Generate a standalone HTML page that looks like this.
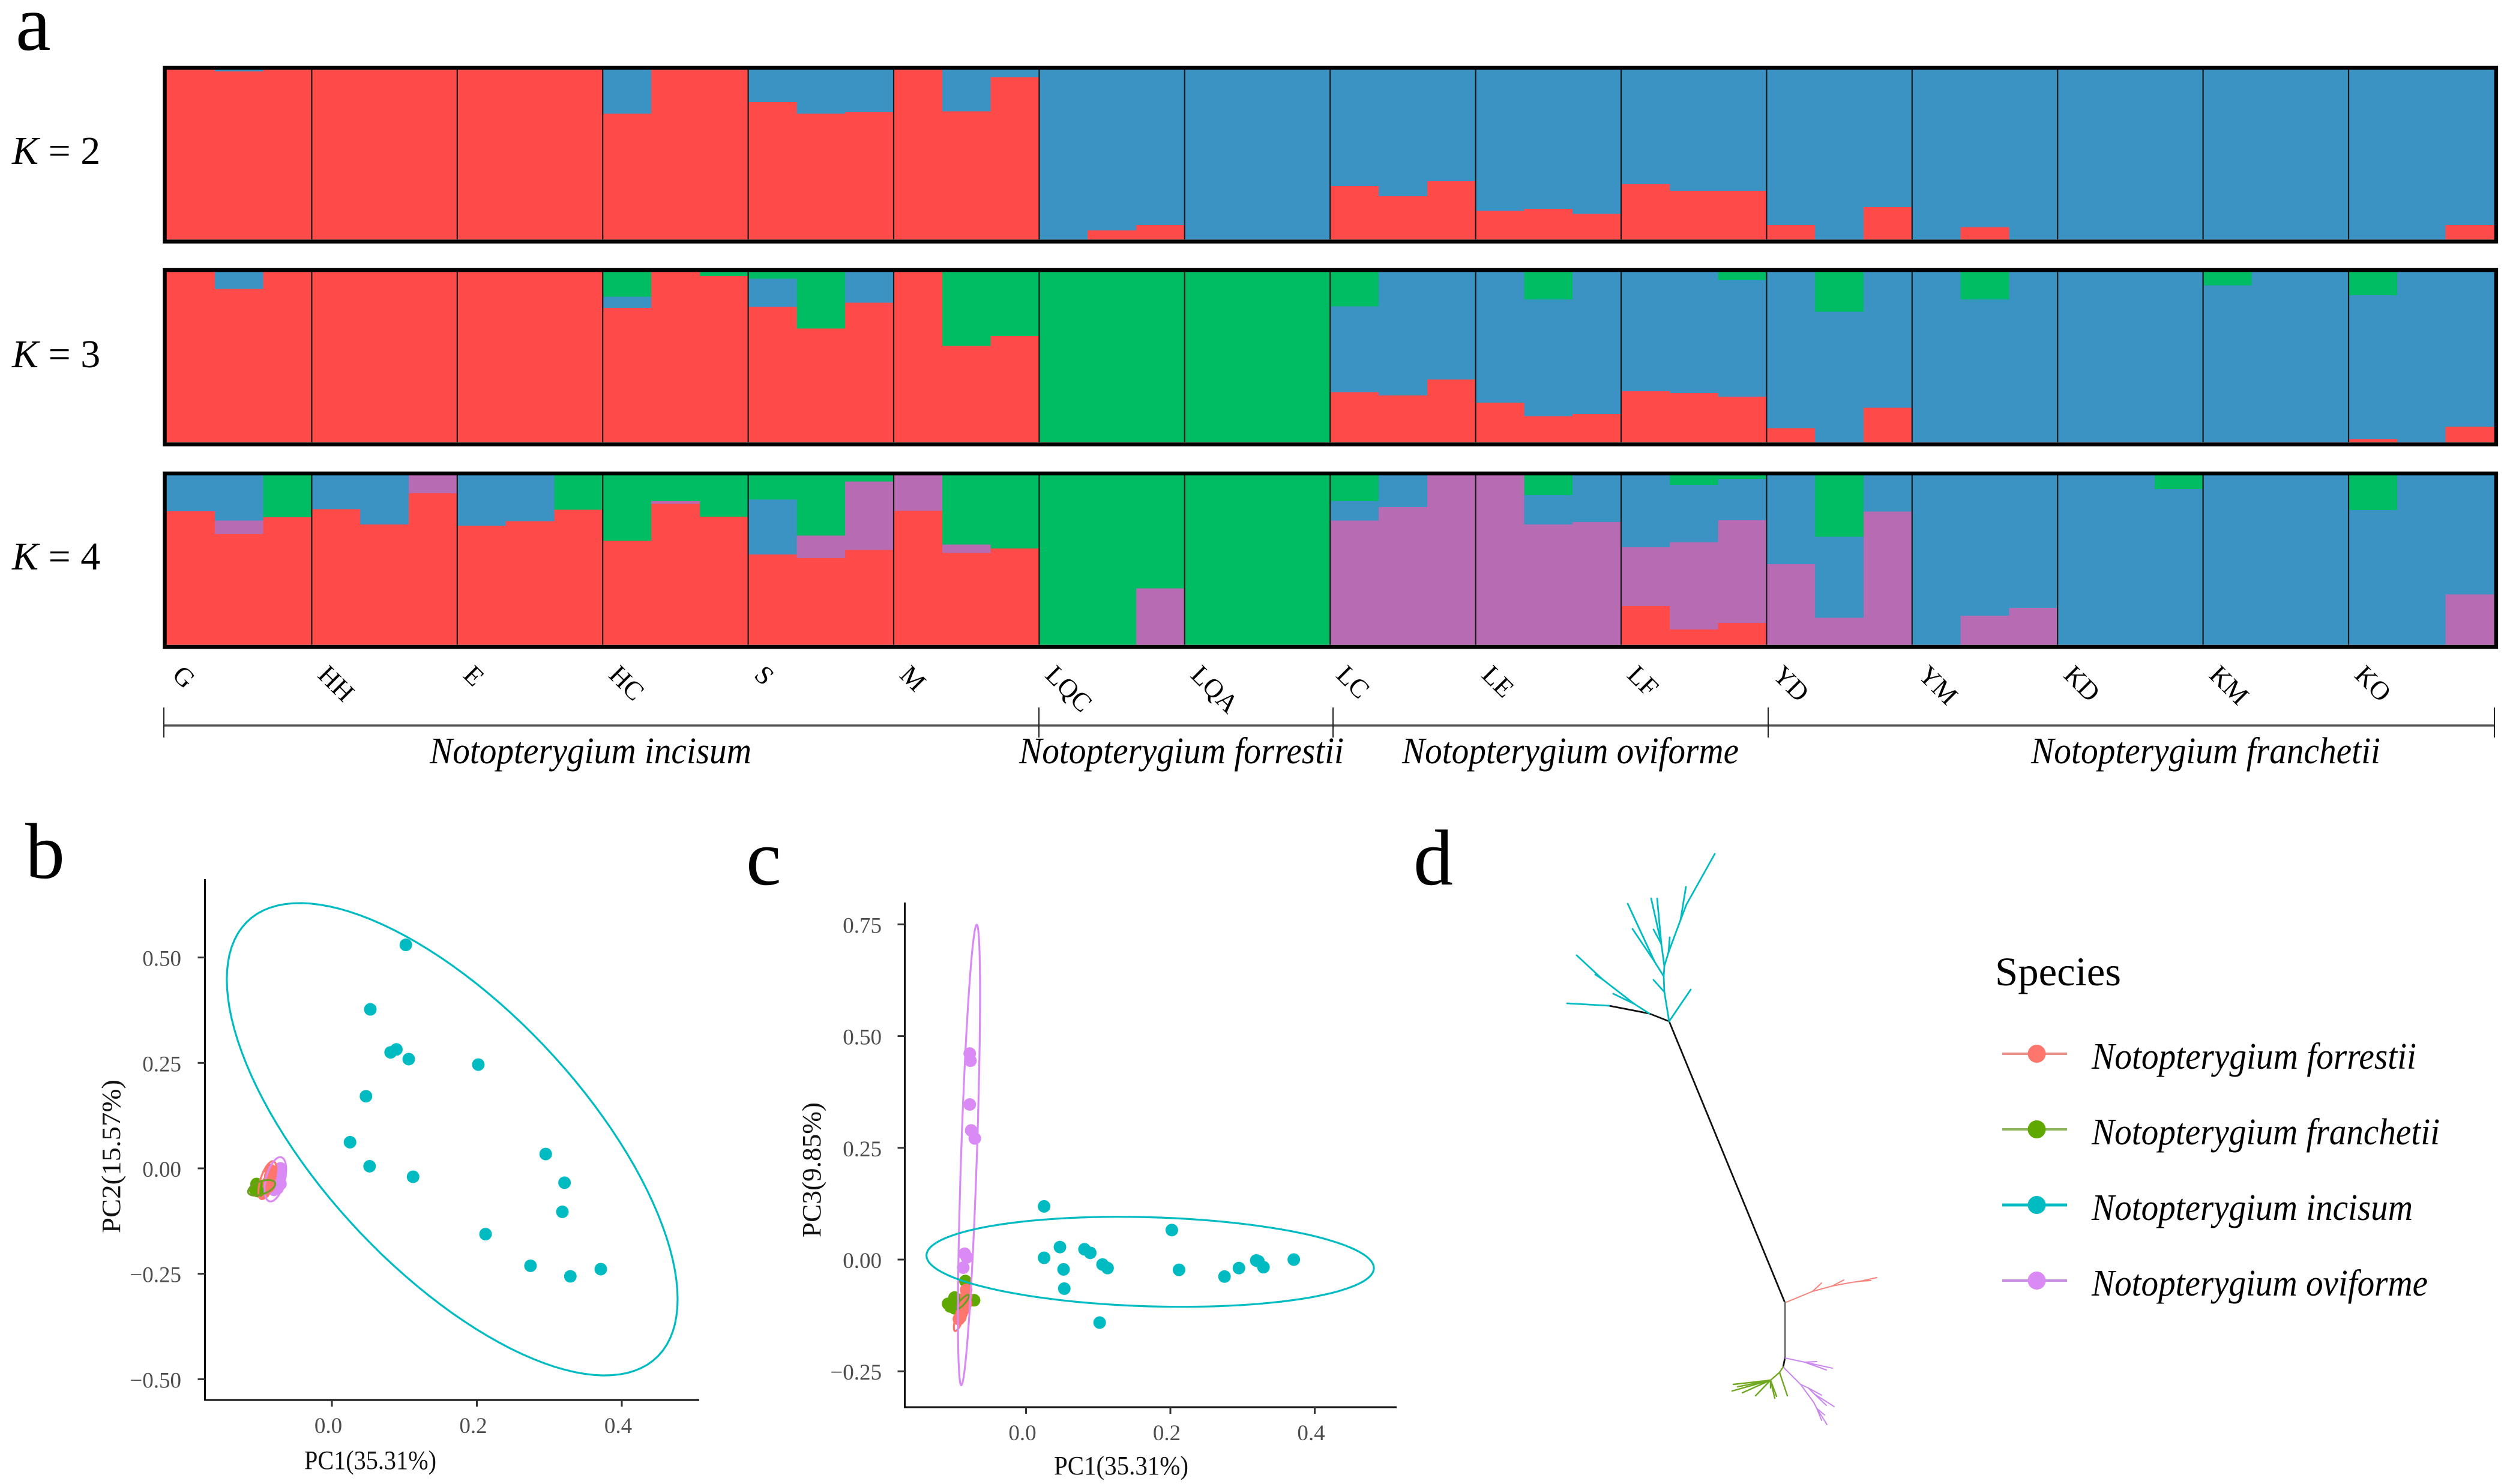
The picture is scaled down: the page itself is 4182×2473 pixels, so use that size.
<!DOCTYPE html>
<html lang="en">
<head>
<meta charset="utf-8">
<title>Notopterygium population structure</title>
<style>
html,body{margin:0;padding:0;background:#fff;}
svg{display:block;}
text{font-family:"Liberation Serif",serif;}
.tick{fill:#4d4d4d;font-size:37px;}
.axt{fill:#111;font-size:44px;}
.pan{fill:#000;font-size:132px;}
.klab{fill:#000;font-size:66px;}
.sp{fill:#000;font-size:62px;font-style:italic;}
.pop{fill:#000;font-size:44px;}
</style>
</head>
<body>
<svg id="fig" xmlns="http://www.w3.org/2000/svg" width="4182" height="2473" viewBox="0 0 4182 2473">
<rect x="0" y="0" width="4182" height="2473" fill="#fff"/>
<text class="pan" x="26" y="83">a</text>
<text class="pan" x="42" y="1463">b</text>
<text class="pan" x="1243" y="1474">c</text>
<text class="pan" x="2355" y="1474">d</text>

<text class="klab" x="20" y="273"><tspan font-style="italic">K</tspan> = 2</text>
<text class="klab" x="20" y="612"><tspan font-style="italic">K</tspan> = 3</text>
<text class="klab" x="20" y="949"><tspan font-style="italic">K</tspan> = 4</text>

<g id="structure"></g>
<g id="poplabels"></g>

<g fill="none">
<line x1="273" y1="1209" x2="4157" y2="1209" stroke="#555" stroke-width="3.5"/>
<line x1="273" y1="1179" x2="273" y2="1229" stroke="#222" stroke-width="2"/>
<line x1="1731" y1="1179" x2="1731" y2="1229" stroke="#222" stroke-width="2"/>
<line x1="2221" y1="1179" x2="2221" y2="1229" stroke="#222" stroke-width="2"/>
<line x1="2946" y1="1179" x2="2946" y2="1229" stroke="#222" stroke-width="2"/>
<line x1="4156" y1="1179" x2="4156" y2="1229" stroke="#222" stroke-width="2"/>
</g>
<text class="sp" x="716" y="1272" textLength="536" lengthAdjust="spacingAndGlyphs">Notopterygium incisum</text>
<text class="sp" x="1698" y="1272" textLength="541" lengthAdjust="spacingAndGlyphs">Notopterygium forrestii</text>
<text class="sp" x="2336" y="1272" textLength="561" lengthAdjust="spacingAndGlyphs">Notopterygium oviforme</text>
<text class="sp" x="3384" y="1272" textLength="582" lengthAdjust="spacingAndGlyphs">Notopterygium franchetii</text>

<g id="pcaB"></g>
<g id="pcaC"></g>
<g id="tree" fill="none" stroke-linecap="round"></g>

<text class="axt" x="507" y="2448" textLength="220" lengthAdjust="spacingAndGlyphs">PC1(35.31%)</text>
<text class="axt" transform="translate(200,2055) rotate(-90)" textLength="256" lengthAdjust="spacingAndGlyphs">PC2(15.57%)</text>
<text class="axt" x="1756" y="2457" textLength="224" lengthAdjust="spacingAndGlyphs">PC1(35.31%)</text>
<text class="axt" transform="translate(1367,2062) rotate(-90)" textLength="225" lengthAdjust="spacingAndGlyphs">PC3(9.85%)</text>

<g>
<text x="3324" y="1642" font-size="68" fill="#000" textLength="210" lengthAdjust="spacingAndGlyphs">Species</text>
<g>
<line x1="3336" y1="1756" x2="3444" y2="1756" stroke="#E8908A" stroke-width="4"/>
<circle cx="3393.5" cy="1756" r="15" fill="#FF766D"/>
<text class="sp" x="3485" y="1781" textLength="541" lengthAdjust="spacingAndGlyphs">Notopterygium forrestii</text>
</g>
<g>
<line x1="3336" y1="1882" x2="3444" y2="1882" stroke="#8DB45A" stroke-width="4"/>
<circle cx="3393.5" cy="1882" r="15" fill="#5FA800"/>
<text class="sp" x="3485" y="1907" textLength="580" lengthAdjust="spacingAndGlyphs">Notopterygium franchetii</text>
</g>
<g>
<line x1="3336" y1="2008" x2="3444" y2="2008" stroke="#00BCC2" stroke-width="5"/>
<circle cx="3393.5" cy="2008" r="15" fill="#00BCC2"/>
<text class="sp" x="3485" y="2033" textLength="535" lengthAdjust="spacingAndGlyphs">Notopterygium incisum</text>
</g>
<g>
<line x1="3336" y1="2134" x2="3444" y2="2134" stroke="#C78BE0" stroke-width="4"/>
<circle cx="3393.5" cy="2134" r="15" fill="#D98AF5"/>
<text class="sp" x="3485" y="2159" textLength="560" lengthAdjust="spacingAndGlyphs">Notopterygium oviforme</text>
</g>
</g>
</svg>

<script>
// ---------- Panel a: ancestry proportions (three individuals per population) ----------
const populations = ['G','HH','E','HC','S','M','LQC','LQA','LC','LE','LF','YD','YM','KD','KM','KO'];

const k2Red = [1,.99,1, 1,1,1, 1,1,1, .74,1,1, .81,.74,.75, 1,.754,.956, 0,.053,.085, 0,0,0, .314,.255,.343, .167,.18,.15, .325,.287,.287, .085,0,.19, 0,.073,0, 0,0,0, 0,0,0, 0,0,.085];
const k2Blue = [0,.01,0, 0,0,0, 0,0,0, .26,0,0, .19,.26,.25, 0,.246,.044, 1,.947,.915, 1,1,1, .686,.745,.657, .833,.82,.85, .675,.713,.713, .915,1,.81, 1,.927,1, 1,1,1, 1,1,1, 1,1,.915];

const k3Red = [1,.9,1, 1,1,1, 1,1,1, .788,1,.976, .794,.668,.818, 1,.565,.624, 0,0,0, 0,0,0, .294,.274,.368, .232,.153,.165, .3,.288,.268, .082,0,.203, 0,0,0, 0,0,0, 0,0,0, .018,0,.091];
const k3Blue = [0,.1,0, 0,0,0, 0,0,0, .065,0,0, .165,0,.182, 0,0,0, 0,0,0, 0,0,0, .503,.726,.632, .768,.685,.835, .7,.712,.682, .918,.765,.797, 1,.838,1, 1,1,1, .921,1,1, .844,1,.909];
const k3Green = [0,0,0, 0,0,0, 0,0,0, .147,0,.024, .041,.332,0, 0,.435,.376, 1,1,1, 1,1,1, .203,0,0, 0,.162,0, 0,0,.05, 0,.235,0, 0,.162,0, 0,0,0, .079,0,0, .138,0,0];

const k4Red = [.788,.653,.753, .8,.709,.894, .703,.729,.797, .615,.832,.756, .532,.512,.559, .791,.541,.568, 0,0,0, 0,0,0, 0,0,0, 0,0,0, .229,.091,.129, 0,0,0, 0,0,0, 0,0,0, 0,0,0, 0,0,0];
const k4Purple = [0,.079,0, 0,0,.106, 0,0,0, 0,.015,0, 0,.132,.403, .209,.05,0, 0,0,.332, 0,0,0, .732,.812,1, 1,.709,.724, .347,.515,.606, .476,.159,.785, 0,.171,.218, 0,0,0, 0,0,0, 0,0,.297];
const k4Blue = [.212,.268,0, .2,.291,0, .297,.271,0, 0,0,0, .324,0,0, 0,0,0, 0,0,0, 0,0,0, .115,.188,0, 0,.174,.276, .424,.338,.244, .524,.479,.215, 1,.829,.782, 1,1,.918, 1,1,1, .794,1,.703];
const k4Green = [0,0,.247, 0,0,0, 0,0,.203, .385,.153,.244, .144,.356,.038, 0,.409,.432, 1,1,.668, 1,1,1, .153,0,0, 0,.117,0, 0,.056,.021, 0,.362,0, 0,0,0, 0,0,.082, 0,0,0, .206,0,0];

// ---------- Panels b, c: PCA scores (species order: forrestii, franchetii, incisum, oviforme) ----------
const xTicks = [0, 0.2, 0.4];
const xTickLabels = ['0.0','0.2','0.4'];
const bYTicks = [0.5, 0.25, 0, -0.25, -0.5];
const bYTickLabels = ['0.50','0.25','0.00','\u22120.25','\u22120.50'];
const cYTicks = [0.75, 0.5, 0.25, 0, -0.25];
const cYTickLabels = ['0.75','0.50','0.25','0.00','\u22120.25'];

const bIncisumPC1 = [.102,.053,.081,.089,.106,.202,.047,.025,.052,.112,.295,.321,.318,.212,.274,.329,.371];
const bIncisumPC2 = [.53,.377,.275,.282,.259,.246,.171,.062,.005,-.02,.034,-.034,-.103,-.156,-.231,-.256,-.239];
const bOviformePC1 = [-.071,-.071,-.071,-.075,-.08,-.073];
const bOviformePC2 = [0,-.018,-.037,-.047,-.051,-.009];
const bForrestiiPC1 = [-.085,-.085,-.088,-.092,-.094,-.087];
const bForrestiiPC2 = [-.004,-.018,-.033,-.047,-.057,-.043];
const bFranchetiiPC1 = [-.104,-.104,-.102,-.106];
const bFranchetiiPC2 = [-.037,-.047,-.054,-.05];

const bEllipseMeanX = [-.089,-.097,.166,-.078];
const bEllipseMeanY = [-.028,-.046,.069,-.026];
const bEllipseHalfX = [.0124,.0187,.311,.0149];
const bEllipseHalfY = [.045,.0185,.56,.0526];
const bEllipseRho = [.6,.5,-.677,.45];

const cIncisumPC1 = [.025,.025,.047,.052,.053,.081,.089,.106,.113,.102,.202,.212,.275,.295,.319,.322,.329,.371];
const cIncisumPC3 = [.119,.004,.028,-.022,-.065,.023,.015,-.011,-.019,-.141,.066,-.023,-.038,-.019,-.002,-.004,-.017,0];
const cOviformePC1 = [-.078,-.077,-.078,-.076,-.071,-.085,-.082,-.087];
const cOviformePC3 = [.461,.445,.347,.289,.271,.013,.005,-.018];
const cFranchetiiPC1 = [-.084,-.072,-.105,-.099,-.108,-.094,-.099,-.091];
const cFranchetiiPC3 = [-.048,-.091,-.105,-.085,-.099,-.091,-.109,-.095];
const cForrestiiPC1 = [-.083,-.083,-.083,-.085,-.089,-.091,-.093];
const cForrestiiPC3 = [-.068,-.082,-.098,-.109,-.119,-.129,-.133];

const cEllipseMeanX = [-.09,-.088,.172,-.079];
const cEllipseMeanY = [-.12,-.095,-.005,.234];
const cEllipseHalfX = [.01,.009,.31,.0153];
const cEllipseHalfY = [.04,.016,.1007,.515];
const cEllipseRho = [.8,.85,-.14,.7];

// ---------- Panel d: unrooted tree as branch vectors from parent node ----------
const branchParent = [-1,0,1,2,3,2,5,5,7,7,1,10,10,12,13,13,12,16,17,17,17,16,21,21,23,23,25,1,
  0,28,28,30,30,32,33,33, 0,36, 36,38,38,38,37,42,43,43,45,45,42,48,49,49,49, 37,53,54,54,54,54,54,54,54,53,54];
const branchDx = [0,-193,-33,-67,-70,-25,-35,-53,-12,-43,-8,-18,-1,-15,-37,-45,1,-5,-17,-7,-13,7,2,20,9,10,47,36,
  46,15,33,19,32,15,27,17, 0,-3, 33,46,20,36,29,13,22,10,33,20,22,5,17,13,8, -6,-15,-62,-55,-64,-47,-25,7,10,13,0];
const branchDy = [0,-469,-13,-13,-4,-16,-17,-41,-8,-40,-49,-20,-26,-24,-55,-97,-17,-37,-76,-76,-24,-23,-25,-54,-55,-26,-84,-53,
  -19,-14,-9,-10,-6,-2,-6,-1, 92,15, 7,10,-1,13,29,6,12,10,21,19,30,10,27,11,20, 9,13,7,11,18,21,26,30,27,39,13];
const branchClade = ['root','black','black','black','teal','teal','teal','teal','teal','teal','teal','teal','teal','teal','teal','teal','teal','teal','teal','teal','teal','teal','teal','teal','teal','teal','teal','teal',
  'salmon','salmon','salmon','salmon','salmon','salmon','salmon','salmon','gray','black',
  'purple','purple','purple','purple','purple','purple','purple','purple','purple','purple','purple','purple','purple','purple','purple',
  'green','green','green','green','green','green','green','green','green','green','green'];

const SVG_NS = 'http://www.w3.org/2000/svg';
function mk(tag, attrs, parent){
  const el = document.createElementNS(SVG_NS, tag);
  for (const key in attrs) el.setAttribute(key, attrs[key]);
  parent.appendChild(el);
  return el;
}

// ---- structure bars ----
const structureGroup = document.getElementById('structure');
const COL_RED = '#FF4A4A', COL_BLUE = '#3B93C3', COL_GREEN = '#00BD63', COL_PURPLE = '#B76BB2';
const plotLeft = 277, barW = 80.8;
function barX(i){ return plotLeft + i * barW; }

function drawStructure(label, top, bottom, stack, colors, names){
  const g = mk('g', {}, structureGroup);
  
  
  const h = bottom - top;
  const count = stack[0].length;
  for (let i = 0; i < count; i++){
    let acc = 0;
    for (let s = 0; s < stack.length; s++){
      const v = stack[s][i];
      if (v <= 0) continue;
      const y1 = bottom - acc * h;
      const y2 = bottom - (acc + v) * h;
      const bar = mk('rect', {x: barX(i), y: y2, width: barW + 0.6, height: y1 - y2, fill: colors[s], 'shape-rendering': 'crispEdges'}, g);
      
      
      acc += v;
    }
  }
  for (let p = 1; p < populations.length; p++){
    const sep = mk('line', {x1: barX(p * 3), x2: barX(p * 3), y1: top, y2: bottom, stroke: '#1a1a1a', 'stroke-width': 2.2}, g);
    
    
  }
  const frame = mk('rect', {x: plotLeft - 2.5, y: top - 3, width: barX(count) - plotLeft + 6, height: h + 6.5, fill: 'none', stroke: '#000', 'stroke-width': 6.5}, g);
  
  
}
drawStructure('k2', 116, 399, [k2Red, k2Blue], [COL_RED, COL_BLUE], ['red','blue']);
drawStructure('k3', 453, 737, [k3Red, k3Blue, k3Green], [COL_RED, COL_BLUE, COL_GREEN], ['red','blue','green']);
drawStructure('k4', 792, 1074.5, [k4Red, k4Purple, k4Blue, k4Green], [COL_RED, COL_PURPLE, COL_BLUE, COL_GREEN], ['red','purple','blue','green']);

const popLabelGroup = document.getElementById('poplabels');
populations.forEach(function(name, p){
  const t = mk('text', {class: 'pop', transform: 'translate(' + (barX(p * 3) + 8) + ',1127) rotate(45)'}, popLabelGroup);
  
  
  t.textContent = name;
});

// ---- PCA ----
const SALMON = '#FF766D', OLIVE = '#5FA800', TEAL = '#00BCC2', ORCHID = '#D98AF5';
const ellipseColors = [SALMON, '#6F9E20', TEAL, ORCHID];
const speciesNames = ['forrestii','franchetii','incisum','oviforme'];

function drawPca(group, opt){
  const xs = opt.xs, ys = opt.ys;
  const axisPath = mk('path', {d: 'M' + opt.left + ' ' + opt.top + 'V' + opt.bottom + 'H' + opt.right, fill: 'none', stroke: '#111', 'stroke-width': 3}, group);
  
  
  opt.xTicks.forEach(function(v, i){
    const tick = mk('line', {x1: xs(v), x2: xs(v), y1: opt.bottom, y2: opt.bottom + 11, stroke: '#333', 'stroke-width': 3}, group);
    
    
    const lab = mk('text', {class: 'tick', x: xs(v) - 6, y: opt.xLabelY, 'text-anchor': 'middle'}, group);
    
    
    lab.textContent = opt.xLabels[i];
  });
  opt.yTicks.forEach(function(v, i){
    const tick = mk('line', {x1: opt.left - 12, x2: opt.left, y1: ys(v), y2: ys(v), stroke: '#333', 'stroke-width': 3}, group);
    
    
    const lab = mk('text', {class: 'tick', x: opt.yLabelX, y: ys(v) + 14, 'text-anchor': 'end'}, group);
    
    
    lab.textContent = opt.yLabels[i];
  });
  opt.points.forEach(function(s){
    s.px.forEach(function(v, i){
      const dot = mk('circle', {cx: xs(v), cy: ys(s.py[i]), r: 10.5, fill: s.color}, group);
      
      
    });
  });
  opt.ellipseOrder.forEach(function(k){
    let d = '';
    const rho = opt.rho[k], q = Math.sqrt(1 - rho * rho);
    for (let a = 0; a <= 120; a++){
      const t = a / 120 * 2 * Math.PI;
      const vx = opt.mx[k] + opt.hx[k] * Math.cos(t);
      const vy = opt.my[k] + opt.hy[k] * (rho * Math.cos(t) + q * Math.sin(t));
      d += (a ? 'L' : 'M') + xs(vx).toFixed(1) + ' ' + ys(vy).toFixed(1);
    }
    const ring = mk('path', {d: d + 'Z', fill: 'none', stroke: ellipseColors[k], 'stroke-width': 3.2}, group);
    
    
  });
}

drawPca(document.getElementById('pcaB'), {
  xs: function(v){ return 553 + v * 1207.5; },
  ys: function(v){ return 1947 - v * 702.8; },
  left: 341.5, right: 1165, top: 1465, bottom: 2333,
  xTicks: xTicks, xLabels: xTickLabels, xLabelY: 2388,
  yTicks: bYTicks, yLabels: bYTickLabels, yLabelX: 302,
  points: [
    {name: 'oviforme', color: ORCHID, px: bOviformePC1, py: bOviformePC2},
    {name: 'forrestii', color: SALMON, px: bForrestiiPC1, py: bForrestiiPC2},
    {name: 'franchetii', color: OLIVE, px: bFranchetiiPC1, py: bFranchetiiPC2},
    {name: 'incisum', color: TEAL, px: bIncisumPC1, py: bIncisumPC2}
  ],
  ellipseOrder: [0, 3, 1, 2],
  mx: bEllipseMeanX, my: bEllipseMeanY, hx: bEllipseHalfX, hy: bEllipseHalfY, rho: bEllipseRho
});

drawPca(document.getElementById('pcaC'), {
  xs: function(v){ return 1709.5 + v * 1202.5; },
  ys: function(v){ return 2099 - v * 744.8; },
  left: 1507.5, right: 2327, top: 1504, bottom: 2345,
  xTicks: xTicks, xLabels: xTickLabels, xLabelY: 2400,
  yTicks: cYTicks, yLabels: cYTickLabels, yLabelX: 1469,
  points: [
    {name: 'oviforme', color: ORCHID, px: cOviformePC1, py: cOviformePC3},
    {name: 'franchetii', color: OLIVE, px: cFranchetiiPC1, py: cFranchetiiPC3},
    {name: 'forrestii', color: SALMON, px: cForrestiiPC1, py: cForrestiiPC3},
    {name: 'incisum', color: TEAL, px: cIncisumPC1, py: cIncisumPC3}
  ],
  ellipseOrder: [0, 1, 3, 2],
  mx: cEllipseMeanX, my: cEllipseMeanY, hx: cEllipseHalfX, hy: cEllipseHalfY, rho: cEllipseRho
});

// ---- tree ----
const treeGroup = document.getElementById('tree');
const cladeStroke = {black: '#111', gray: '#808080', teal: '#00BCC2', salmon: '#F4847C', purple: '#C987EE', green: '#6FA81E'};
const cladeWidth = {black: 2.8, gray: 3.8, teal: 2.8, salmon: 2, purple: 2, green: 2.4};
const treeOriginX = 2974, treeOriginY = 2171, treeScale = 1;
const nodeX = [], nodeY = [];
branchParent.forEach(function(parent, i){
  if (parent < 0){
    nodeX[i] = treeOriginX;
    nodeY[i] = treeOriginY;
    return;
  }
  nodeX[i] = nodeX[parent] + branchDx[i] * treeScale;
  nodeY[i] = nodeY[parent] + branchDy[i] * treeScale;
  const clade = branchClade[i];
  const seg = mk('line', {x1: nodeX[parent], y1: nodeY[parent], x2: nodeX[i], y2: nodeY[i], stroke: cladeStroke[clade], 'stroke-width': cladeWidth[clade]}, treeGroup);
  
  
});
</script>
</body>
</html>
